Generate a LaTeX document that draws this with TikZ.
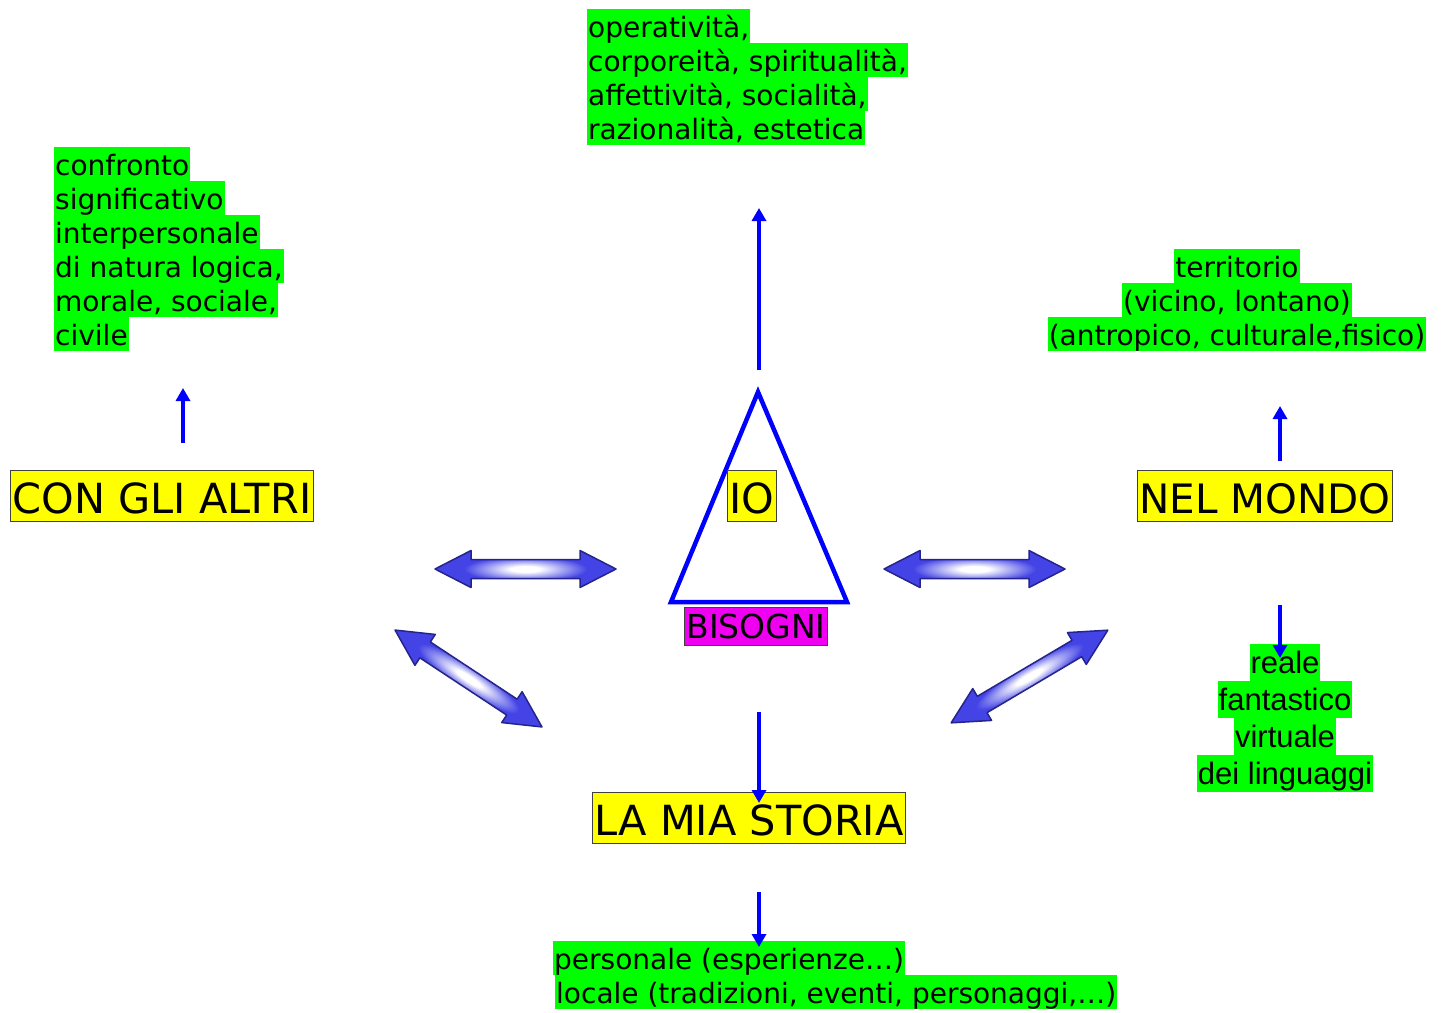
\documentclass[tikz,border=0pt]{standalone}
\usepackage{fontspec}
\setmainfont{DejaVu Sans}
\newfontfamily\arialfont{Liberation Sans}
\usetikzlibrary{arrows.meta}
\definecolor{hlgreen}{RGB}{0,255,0}
\definecolor{titleyellow}{RGB}{255,255,0}
\definecolor{needmagenta}{RGB}{240,0,240}
\definecolor{linkblue}{RGB}{0,0,255}
\definecolor{fatblue}{RGB}{68,68,230}
\definecolor{fatedge}{RGB}{36,36,140}
\pgfdeclareradialshading{fatshade}{\pgfpoint{0bp}{0bp}}{color(0bp)=(white); color(4bp)=(white); color(17bp)=(fatblue); color(25bp)=(fatblue); color(50bp)=(fatblue)}
\newcommand{\hlg}[1]{{\setlength{\fboxsep}{0pt}\colorbox{hlgreen}{\rule[-6pt]{0pt}{34pt}\kern1pt#1\kern1pt}}}
\newcommand{\hla}[1]{{\setlength{\fboxsep}{0pt}\colorbox{hlgreen}{\rule[-8pt]{0pt}{37pt}\kern1pt#1\kern1pt}}}
\newcommand{\bigarrow}[3]{%
  \begin{scope}[transform canvas={shift={(#1)},rotate=#2}]
    \path[fatarrow] ({-#3/2},0) -- ({-#3/2+36},18.5) -- ({-#3/2+36},9.5) -- ({#3/2-36},9.5)
      -- ({#3/2-36},18.5) -- ({#3/2},0) -- ({#3/2-36},-18.5) -- ({#3/2-36},-9.5)
      -- ({-#3/2+36},-9.5) -- ({-#3/2+36},-18.5) -- cycle;
  \end{scope}}
\tikzset{
  headbox/.style={fill=titleyellow, draw=black!75, line width=1pt, inner xsep=2pt, inner ysep=0pt,
    text height=43pt, text depth=8pt, font=\fontsize{41.5pt}{49pt}\selectfont},
  needbox/.style={headbox, fill=needmagenta, text height=31pt, text depth=7pt,
    font=\fontsize{33pt}{40pt}\selectfont},
  notebox/.style={inner sep=0pt, font=\fontsize{28pt}{34pt}\selectfont},
  linkarrow/.style={draw=linkblue, line width=4pt, -{Triangle[length=13pt,width=14pt]}},
  fatarrow/.style={shade, shading=fatshade, draw=fatedge, line width=1.5pt, line join=round}
}
\begin{document}
\begin{tikzpicture}[x=1pt,y=-1pt]
      \path[use as bounding box, fill=white] (0,0) rectangle (1445,1012);
      \coordinate (apex) at (758,392);
      \coordinate (baseL) at (671,602);
      \coordinate (baseR) at (847,602);
      \draw[linkblue, line width=4.5pt, line join=miter] (apex) -- (baseL) -- (baseR) -- cycle;
      \node[headbox] (altri) at (162,496) {CON GLI ALTRI};
      \node[headbox] (io) at (752,495.5) {IO};
      \node[headbox, font=\fontsize{40.5pt}{49pt}\selectfont] (mondo) at (1265,496) {NEL MONDO};
      \node[headbox] (storia) at (749,817.5) {LA MIA STORIA};
      \node[needbox] (bisogni) at (756,626) {BISOGNI};
      \node[notebox, anchor=north west, align=left] (qualita) at (587,9)
        {\hlg{operatività,}\\\hlg{corporeità, spiritualità,}\\\hlg{affettività, socialità,}\\\hlg{razionalità, estetica}};
      \node[notebox, anchor=north west, align=left] (confronto) at (54,147)
        {\hlg{confronto}\\\hlg{significativo}\\\hlg{interpersonale}\\\hlg{di natura logica,}\\\hlg{morale, sociale,}\\\hlg{civile}};
      \node[notebox, anchor=north, align=center] (territorio) at (1237,249)
        {\hlg{territorio}\\\hlg{(vicino, lontano)}\\\hlg{(antropico, culturale,fisico)}};
      \node[notebox, anchor=north, align=center, font=\arialfont\fontsize{31pt}{37pt}\selectfont] (reale) at (1285,644)
        {\hla{reale}\\\hla{fantastico}\\\hla{virtuale}\\\hla{dei linguaggi}};
      \node[notebox, anchor=north west, align=left] (personale) at (553,941)
        {\hlg{personale (esperienze…)}\\\hspace*{2pt}\hlg{locale (tradizioni, eventi, personaggi,…)}};
      \coordinate (fatL) at (525.5,569);
      \coordinate (fatR) at (974.5,569);
      \coordinate (fatLD) at (468.5,678.5);
      \coordinate (fatRD) at (1029.5,676.5);
      \bigarrow{fatL}{0}{181}
      \bigarrow{fatR}{0}{181}
      \bigarrow{fatLD}{-33.4}{176}
      \bigarrow{fatRD}{30.6}{182}
      \coordinate (ioUp) at (759,370);
      \coordinate (qualitaIn) at (759,208);
      \coordinate (altriUp) at (183,443);
      \coordinate (confrontoIn) at (183,388);
      \coordinate (mondoUp) at (1280,461);
      \coordinate (territorioIn) at (1280,406);
      \coordinate (ioDown) at (759,712);
      \coordinate (storiaIn) at (759,803);
      \coordinate (storiaDown) at (759,892);
      \coordinate (personaleIn) at (759,947);
      \coordinate (mondoDown) at (1280,605);
      \coordinate (realeIn) at (1280,658);
      \begin{scope}[linkarrow]
        \draw (ioUp) to (qualitaIn);
        \draw (altriUp) to (confrontoIn);
        \draw (mondoUp) to (territorioIn);
        \draw (ioDown) to (storiaIn);
        \draw (storiaDown) to (personaleIn);
        \draw (mondoDown) to (realeIn);
      \end{scope}
    \end{tikzpicture}
\end{document}
